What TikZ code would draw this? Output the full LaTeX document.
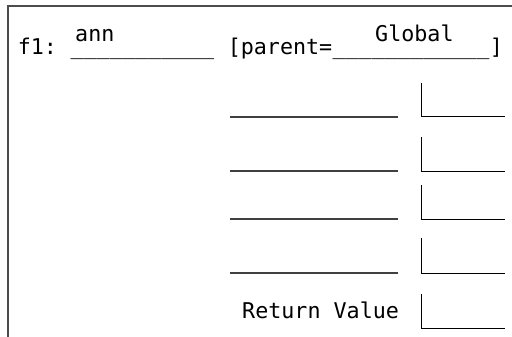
\documentclass[tikz,border=0pt]{standalone}
\usepackage{fontspec}
\setmonofont{DejaVu Sans Mono}
\usepackage{tikz}

\begin{document}
\begin{tikzpicture}[x=1pt,y=-1pt,
  txt/.style={font=\fontsize{21.7}{26}\selectfont\ttfamily, inner sep=0pt, anchor=base west},
  blank/.style={line width=1.4pt, black!75},
  cell/.style={line width=1pt, black}]
\useasboundingbox (0,0) rectangle (512,337);

%% cadre
\draw[line width=1.6pt, black!70] (8,337) -- (8,6) -- (512,6);

%% en-tete
\node[txt] (cadre) at (17.6,55) {f1:};
\node[txt] (trait1) at (70.4,55) {\_\_\_\_\_\_\_\_\_\_\_};
\node[txt] (crochet) at (227.6,55) {[parent=};
\node[txt] (trait2) at (trait1.base east -| 332.4,0) {\_\_\_\_\_\_\_\_\_\_\_\_};
\node[txt] (fin) at (trait2.base east) {]};
\node[txt] (nom) at (75,42) {ann};
\node[txt] (parent) at (375,42) {Global};

%% noms
\draw[blank] (230,117) -- (398,117);
\draw[blank] (230,171) -- (398,171);
\draw[blank] (230,219) -- (398,219);
\draw[blank] (230,273) -- (398,273);

%% valeurs
\draw[cell] (421,83) -- (421,117) -- (505,117);
\draw[cell] (421,137) -- (421,171) -- (505,171);
\draw[cell] (421,185) -- (421,219) -- (505,219);
\draw[cell] (421,238) -- (421,273) -- (505,273);
\draw[cell] (421,294) -- (421,328) -- (505,328);

%% retour
\node[txt] (retour) at (242,318) {Return Value};

\end{tikzpicture}
\end{document}
